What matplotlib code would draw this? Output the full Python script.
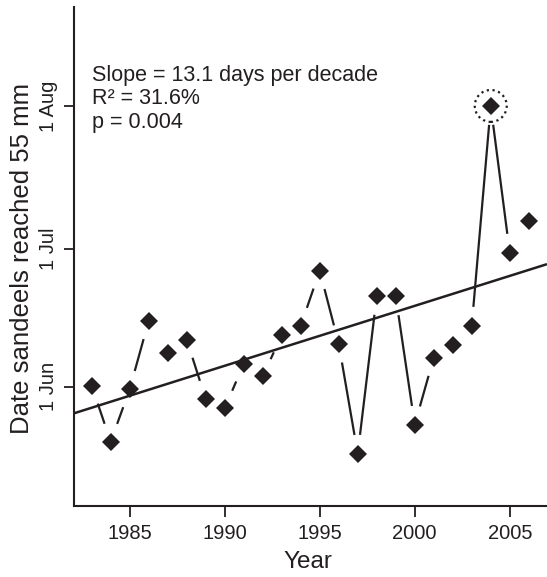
import matplotlib
matplotlib.use("Agg")
import matplotlib.pyplot as plt
import numpy as np

# Day of year (non-leap): 1 Jun = 152, 1 Jul = 182, 1 Aug = 213
years = np.arange(1983, 2007)
day_55mm = np.array([
    152.2, 140.0, 151.4, 166.3, 159.3, 162.2, 149.3, 147.3, 156.9, 154.2,
    163.2, 165.2, 177.2, 161.3, 137.4, 171.7, 171.6, 143.7, 158.3, 161.0,
    165.2, 213.0, 181.1, 188.0,
])
highlight_year = 2004
x_ticks = [1985, 1990, 1995, 2000, 2005]
y_ticks = [152, 182, 213]
y_tick_labels = ["1 Jun", "1 Jul", "1 Aug"]
stats_lines = ["Slope = 13.1 days per decade", "R² = 31.6%", "p = 0.004"]

INK = "#231f20"
plt.rcParams["font.family"] = ["Liberation Sans", "DejaVu Sans"]

fig = plt.figure(figsize=(5.47, 5.77), dpi=100)
ax = fig.add_axes([74 / 547, 71.3 / 577, 473 / 547, 498.7 / 577])
ax.set_xlim(1982.07, 2006.96)
ax.set_ylim(126.1, 234.5)

# Regression line across the full x range
slope, intercept = np.polyfit(years, day_55mm, 1)
xl = np.array(ax.get_xlim())
ax.plot(xl, intercept + slope * xl, color=INK, lw=1.8, solid_capstyle="butt", zorder=2)

# Points joined by segments that stop short of each marker
gap = 19.0
pts = ax.transData.transform(np.column_stack([years, day_55mm]))
inv = ax.transData.inverted()
for p0, p1 in zip(pts[:-1], pts[1:]):
    d = p1 - p0
    length = np.hypot(*d)
    if length <= 2 * gap:
        continue
    u = d / length
    seg = inv.transform(np.array([p0 + u * gap, p1 - u * gap]))
    ax.plot(seg[:, 0], seg[:, 1], color=INK, lw=1.6, solid_capstyle="butt", zorder=2)

ax.plot(years, day_55mm, linestyle="none", marker="D", markersize=9,
        color=INK, markeredgewidth=0, zorder=3)

# Dotted circle round the 2004 outlier
hi = years == highlight_year
ax.scatter(years[hi], day_55mm[hi], s=23 ** 2, facecolors="none", edgecolors=INK,
           linewidths=1.6, linestyles=(0, (1, 1.6)), zorder=3)

for i, line in enumerate(stats_lines):
    ax.text(0.0387, 0.8516 - i * 0.0468, line, transform=ax.transAxes,
            fontsize=15.5, color=INK, va="baseline", ha="left")

ax.set_xticks(x_ticks)
ax.set_yticks(y_ticks)
ax.set_yticklabels(y_tick_labels, rotation=90, va="center")
ax.tick_params(axis="x", direction="out", length=8, width=1.3, colors=INK,
               labelsize=14.5, pad=5)
ax.tick_params(axis="y", direction="out", length=7.5, width=1.3, colors=INK,
               labelsize=14.5, pad=4)

for side in ["top", "right"]:
    ax.spines[side].set_visible(False)
for side in ["left", "bottom"]:
    ax.spines[side].set_linewidth(1.5)
    ax.spines[side].set_color(INK)

ax.set_xlabel("Year", fontsize=17.5, color=INK, va="center")
ax.set_ylabel("Date sandeels reached 55 mm", fontsize=18.5, color=INK, va="center")
ax.xaxis.set_label_coords(0.4938, -0.1129)
ax.yaxis.set_label_coords(-0.1106, 0.495)

fig.savefig("out.png", dpi=100)
